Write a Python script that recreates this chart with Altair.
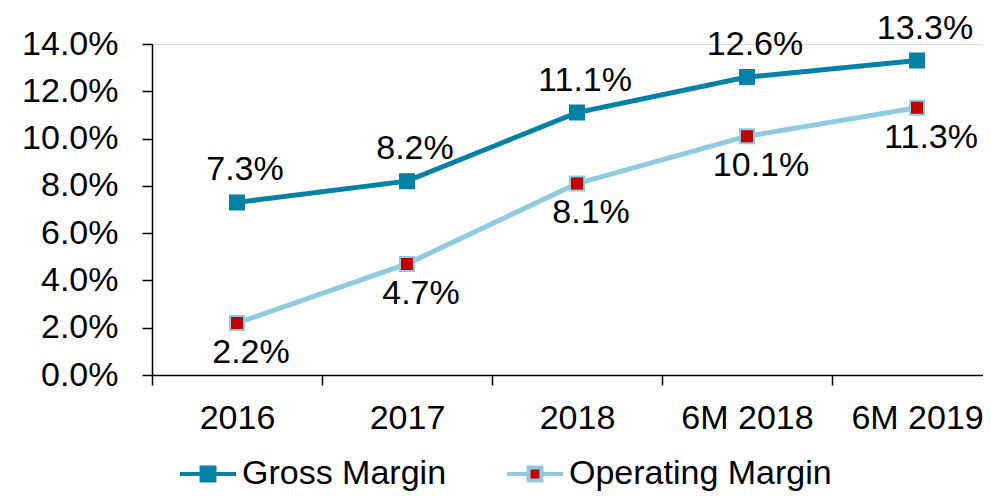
import altair as alt
import pandas as pd

categories = ["2016", "2017", "2018", "6M 2018", "6M 2019"]
series_names = ["Gross Margin", "Operating Margin"]
gross_margin = [0.073, 0.082, 0.111, 0.126, 0.133]
operating_margin = [0.022, 0.047, 0.081, 0.101, 0.113]
y_ticks = [0.0, 0.02, 0.04, 0.06, 0.08, 0.10, 0.12, 0.14]

rows = []
for i, c in enumerate(categories):
    rows.append({"idx": i, "cat": c, "series": series_names[0], "value": gross_margin[i]})
for i, c in enumerate(categories):
    rows.append({"idx": i, "cat": c, "series": series_names[1], "value": operating_margin[i]})
df = pd.DataFrame(rows)

TEAL = "#0580A6"
LIGHT = "#8FCAE0"
RED = "#C00000"
FONT = "Liberation Sans"
FS = 34

cat_array = "[" + ",".join("'" + c + "'" for c in categories) + "]"
x_values = [i - 0.5 for i in range(len(categories))] + list(range(len(categories)))

x_enc = alt.X(
    "idx:Q",
    scale=alt.Scale(domain=[-0.5, 4.388], nice=False, zero=False),
    axis=alt.Axis(
        values=sorted(x_values),
        labelExpr="datum.value % 1 == 0 ? " + cat_array + "[datum.value] : ''",
        tickOpacity={"condition": {"test": "datum.value % 1 == 0", "value": 0}, "value": 1},
        tickSize=10,
        tickWidth=1.5,
        tickColor="black",
        domainColor="black",
        domainWidth=1.5,
        labelOverlap=False,
        labelFlush=False,
        labelBound=False,
        labelFont=FONT,
        labelFontSize=FS,
        labelColor="black",
        labelPadding=16,
        grid=False,
        title=None,
    ),
)
y_enc = alt.Y(
    "value:Q",
    scale=alt.Scale(domain=[0, 0.14], nice=False),
    axis=alt.Axis(
        values=y_ticks,
        format=".1%",
        tickSize=10,
        tickWidth=1.5,
        tickColor="black",
        domainColor="black",
        domainWidth=1.5,
        labelFont=FONT,
        labelFontSize=FS,
        labelColor="black",
        labelPadding=24,
        grid=False,
        title=None,
    ),
)

legend = alt.Legend(
    title=None,
    orient="none",
    direction="horizontal",
    legendX=26,
    legendY=400,
    symbolType="M-1,0H-0.23M0.23,0H1M-0.23,-0.23H0.23V0.23H-0.23Z",
    symbolSize=3136,
    symbolStrokeWidth=4,
    symbolOpacity=1,
    labelFont=FONT,
    labelFontSize=FS,
    labelColor="black",
    labelOffset=4,
    labelLimit=0,
    columnPadding=52,
)

stroke_enc = alt.Stroke(
    "series:N",
    scale=alt.Scale(domain=series_names, range=[TEAL, LIGHT]),
    legend=legend,
)
fill_enc = alt.Fill(
    "series:N",
    scale=alt.Scale(domain=series_names, range=[TEAL, RED]),
    legend=legend,
)

base = alt.Chart(df)

lines = base.mark_line(strokeWidth=5).encode(x=x_enc, y=y_enc, stroke=stroke_enc, detail="series:N")
points = base.mark_point(shape="square", filled=True, size=196, strokeWidth=2, opacity=1).encode(
    x=x_enc, y=y_enc, stroke=stroke_enc, fill=fill_enc
)
labels_gross = base.mark_text(font=FONT, fontSize=FS, color="black", dy=-32, dx=8, baseline="middle").encode(
    x=x_enc, y=y_enc, text=alt.Text("value:Q", format=".1%")
).transform_filter(alt.datum.series == series_names[0])
labels_op = base.mark_text(font=FONT, fontSize=FS, color="black", dy=30, dx=14, baseline="middle").encode(
    x=x_enc, y=y_enc, text=alt.Text("value:Q", format=".1%")
).transform_filter(alt.datum.series == series_names[1])

chart = alt.layer(lines, points, labels_gross, labels_op).properties(
    width=831,
    height=331,
    autosize=alt.AutoSizeParams(type="none"),
    padding={"left": 144, "top": 36, "right": 0, "bottom": 119},
).configure_view(stroke=None).configure(background="white")

chart.save("out.html", embed_options={"renderer": "svg", "actions": False})
